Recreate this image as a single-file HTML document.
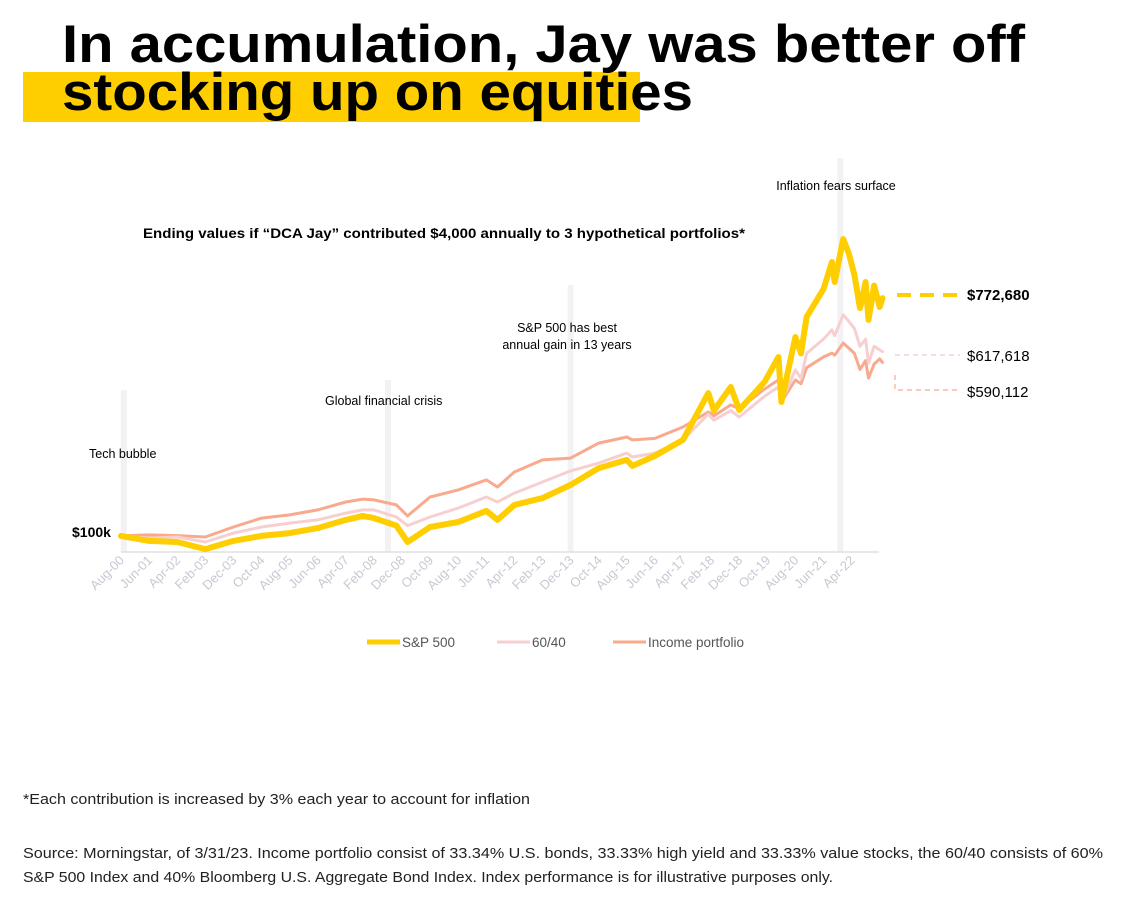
<!DOCTYPE html>
<html><head><meta charset="utf-8"><style>
body{margin:0;background:#fff;width:1138px;height:895px;overflow:hidden;font-family:"Liberation Sans",Arial,sans-serif;}
</style></head><body>
<svg id="chart" width="1138" height="895" xmlns="http://www.w3.org/2000/svg" font-family="Liberation Sans, Arial, sans-serif">
<rect x="23" y="72" width="617" height="50" fill="#FFCE00"/>
<text x="62" y="62" font-size="53" font-weight="bold" textLength="963" lengthAdjust="spacingAndGlyphs">In accumulation, Jay was better off</text>
<text x="62" y="110" font-size="53" font-weight="bold" textLength="631" lengthAdjust="spacingAndGlyphs">stocking up on equities</text>
<text x="143" y="238" font-size="13.5" font-weight="bold" textLength="602" lengthAdjust="spacingAndGlyphs">Ending values if “DCA Jay” contributed $4,000 annually to 3 hypothetical portfolios*</text>
<g id="bands"></g>
<line x1="121" y1="552" x2="879" y2="552" stroke="#e0e0e0" stroke-width="1.5"/>
<g id="ticks"></g>
<g id="lines"></g>
<text x="72" y="537" font-size="14" font-weight="bold">$100k</text>
<text x="89" y="458" font-size="12.5">Tech bubble</text>
<text x="325" y="405" font-size="12.5">Global financial crisis</text>
<text x="567" y="332" font-size="12.5" text-anchor="middle"><tspan x="567">S&amp;P 500 has best</tspan><tspan x="567" dy="17">annual gain in 13 years</tspan></text>
<text x="836" y="190" font-size="12.5" text-anchor="middle">Inflation fears surface</text>
<line x1="897" y1="295" x2="960" y2="295" stroke="#FFCE00" stroke-width="4" stroke-dasharray="14,9"/>
<text x="967" y="300" font-size="15" font-weight="bold">$772,680</text>
<line x1="895" y1="355" x2="960" y2="355" stroke="#F7CFD0" stroke-width="1.5" stroke-dasharray="5,4"/>
<text x="967" y="361" font-size="15">$617,618</text>
<polyline points="895,375 895,390 960,390" fill="none" stroke="#F9A98E" stroke-width="1.2" stroke-dasharray="5,4"/>
<text x="967" y="397" font-size="15">$590,112</text>
<g>
<line x1="367" y1="642" x2="400" y2="642" stroke="#FFCE00" stroke-width="5"/>
<text x="402" y="647" font-size="13.5" fill="#555">S&amp;P 500</text>
<line x1="497" y1="642" x2="530" y2="642" stroke="#F7CFD0" stroke-width="3"/>
<text x="532" y="647" font-size="13.5" fill="#555">60/40</text>
<line x1="613" y1="642" x2="646" y2="642" stroke="#F9A98E" stroke-width="3"/>
<text x="648" y="647" font-size="13.5" fill="#555">Income portfolio</text>
</g>
<text x="23" y="804" font-size="15" fill="#222" textLength="507" lengthAdjust="spacingAndGlyphs">*Each contribution is increased by 3% each year to account for inflation</text>
<text x="23" y="858" font-size="15" fill="#222" textLength="1080" lengthAdjust="spacingAndGlyphs">Source: Morningstar, of 3/31/23. Income portfolio consist of 33.34% U.S. bonds, 33.33% high yield and 33.33% value stocks, the 60/40 consists of 60%</text>
<text x="23" y="882" font-size="15" fill="#222" textLength="810" lengthAdjust="spacingAndGlyphs">S&amp;P 500 Index and 40% Bloomberg U.S. Aggregate Bond Index. Index performance is for illustrative purposes only.</text>
</svg>
<script>
const months = [0,10,20,30,40,50,60,70,80,86,90,98,102,110,120,130,134,140,150,160,170,180,182,190,200,209,211,217,220,229,234,235,240,242,244,250,253,254,257,259,261,263,265,266,268,270,271];
const sp500 = [89,75,72,52,75,89,97,111,134,145,139,118,72,114,128,159,134,176,195,232,279,302,285,313,358,489,440,506,442,520,590,464,646,600,702,780,856,800,920,880,820,727,800,694,790,730,755];
const sixtyForty = [89,83,86,72,97,114,125,134,153,162,162,142,118,142,167,198,184,209,240,271,293,321,310,321,358,430,413,440,422,480,506,464,554,530,600,640,666,650,708,690,670,620,640,573,620,610,605];
const income = [89,92,90,86,114,139,148,162,184,192,190,176,145,198,218,246,226,268,302,307,349,366,358,362,394,436,425,456,445,500,526,464,526,515,560,590,601,595,629,615,600,555,580,531,570,585,575];
const tickLabels = ["Aug-00","Jun-01","Apr-02","Feb-03","Dec-03","Oct-04","Aug-05","Jun-06","Apr-07","Feb-08","Dec-08","Oct-09","Aug-10","Jun-11","Apr-12","Feb-13","Dec-13","Oct-14","Aug-15","Jun-16","Apr-17","Feb-18","Dec-18","Oct-19","Aug-20","Jun-21","Apr-22"];
const bandMonths = [1,95,160,256];
const bandTops = [390,380,285,158];
const NS="http://www.w3.org/2000/svg";
const xs = m => 121 + m*2.81;
const ys = v => 532 - (v-100)/2.8;
function mk(t,a,p){const e=document.createElementNS(NS,t);for(const k in a)e.setAttribute(k,a[k]);document.getElementById(p).appendChild(e);return e;}
bandMonths.forEach((m,i)=>{
  const r=mk('rect',{x:xs(m)-3,y:bandTops[i],width:6,height:552-bandTops[i],fill:'#f2f2f4'},'bands');
  
  
});
tickLabels.forEach((t,i)=>{
  const x=xs(i*10)+4, y=561;
  const e=mk('text',{x:x,y:y,'font-size':'13','fill':'#c8c8d4','text-anchor':'end',transform:`rotate(-45 ${x} ${y})`},'ticks');
  e.textContent=t;
  
  
});
function line(vals,color,w,name){
  const pts=months.map((m,i)=>xs(m).toFixed(1)+','+ys(vals[i]).toFixed(1)).join(' ');
  const e=mk('polyline',{points:pts,fill:'none',stroke:color,'stroke-width':w,'stroke-linejoin':'round','stroke-linecap':'round'},'lines');
  
  
}
line(income,'#F9A98E',3,'income-line');
line(sixtyForty,'#F7CFD0',3,'sixty-forty-line');
line(sp500,'#FFCE00',6,'sp500-line');
</script>
</body></html>
